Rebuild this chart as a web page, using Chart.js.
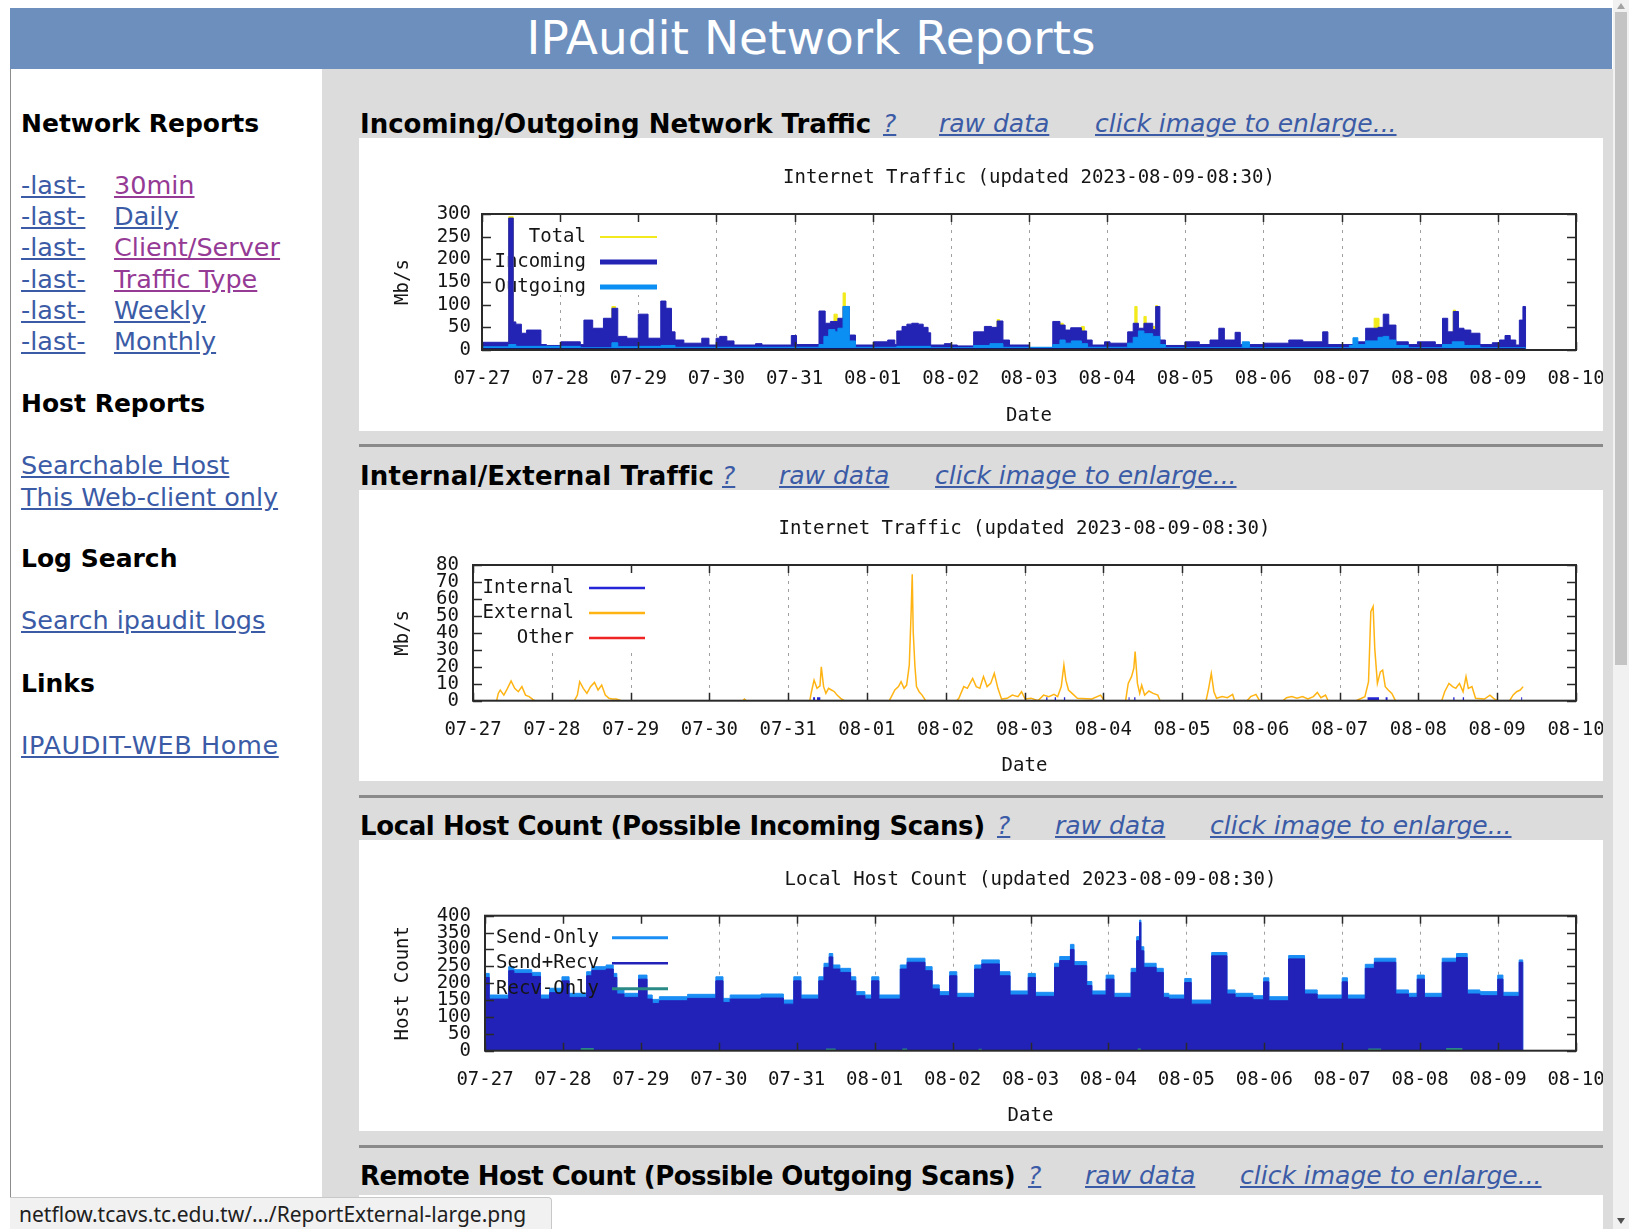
<!DOCTYPE html>
<html>
<head>
<meta charset="utf-8">
<title>IPAudit Network Reports</title>
<script src="https://cdn.jsdelivr.net/npm/chart.js@4.4.0/dist/chart.umd.min.js"></script>
<style>
html, body { margin: 0; padding: 0; width: 1629px; height: 1229px; overflow: hidden; background: #fff; font-family: "DejaVu Sans", Verdana, sans-serif; }
#header { position: absolute; left: 10px; top: 8px; width: 1602px; height: 61px; background: #6d8fbe; color: #fff; font-size: 47px; line-height: 60px; text-align: center; }
#side { position: absolute; left: 10px; top: 69px; width: 311px; height: 1160px; border-left: 1px solid #8c8c8c; background: #fff; }
#main { position: absolute; left: 322px; top: 69px; width: 1291px; height: 1160px; background: #dcdcdc; }
.t { position: absolute; white-space: nowrap; font-size: 25.5px; line-height: 31px; }
.h { font-weight: bold; color: #000; font-size: 25px; }
a { color: #3b5ba6; text-decoration: underline; }
a.v { color: #953a95; }
.sec { position: absolute; white-space: nowrap; font-size: 25px; line-height: 32px; }
.sec.b { font-weight: bold; font-size: 26px; color: #000; }
.sec a { font-style: italic; }
.box { position: absolute; left: 359px; width: 1244px; background: #fff; overflow: hidden; }
.box canvas { position: absolute; left: 0; top: 0; }
.sep { position: absolute; left: 359px; width: 1244px; height: 3px; background: #8a8a8a; }
#status { position: absolute; left: 10px; top: 1197px; width: 532px; height: 32px; padding-left: 9px; background: #f1f1f1; border-top: 1px solid #c8c8c8; border-right: 1px solid #c8c8c8; border-top-right-radius: 4px; font-family: "Noto Sans", sans-serif; font-size: 21px; line-height: 32px; color: #202020; white-space: nowrap; }
#scroll { position: absolute; left: 1613px; top: 0; width: 16px; height: 1229px; background: #f1f1f1; }
#thumb { position: absolute; left: 2px; top: 12px; width: 12px; height: 653px; background: #c4c4c4; }
.arr { position: absolute; left: 4px; width: 0; height: 0; border-left: 4px solid transparent; border-right: 4px solid transparent; }
</style>
</head>
<body>
<div id="header">IPAudit Network Reports</div>
<div id="side"></div>
<div id="main"></div>

<div class="t h" style="left:21px;top:108px">Network Reports</div>
<div class="t" style="left:21px;top:170px"><a href="#">-last-</a></div>
<div class="t" style="left:114px;top:170px"><a class="v" href="#">30min</a></div>
<div class="t" style="left:21px;top:201px"><a href="#">-last-</a></div>
<div class="t" style="left:114px;top:201px"><a href="#">Daily</a></div>
<div class="t" style="left:21px;top:232px"><a href="#">-last-</a></div>
<div class="t" style="left:114px;top:232px"><a class="v" href="#">Client/Server</a></div>
<div class="t" style="left:21px;top:264px"><a href="#">-last-</a></div>
<div class="t" style="left:114px;top:264px"><a class="v" href="#">Traffic Type</a></div>
<div class="t" style="left:21px;top:295px"><a href="#">-last-</a></div>
<div class="t" style="left:114px;top:295px"><a href="#">Weekly</a></div>
<div class="t" style="left:21px;top:326px"><a href="#">-last-</a></div>
<div class="t" style="left:114px;top:326px"><a href="#">Monthly</a></div>
<div class="t h" style="left:21px;top:388px">Host Reports</div>
<div class="t" style="left:21px;top:450px"><a href="#">Searchable Host</a></div>
<div class="t" style="left:21px;top:482px"><a href="#">This Web-client only</a></div>
<div class="t h" style="left:21px;top:543px">Log Search</div>
<div class="t" style="left:21px;top:605px"><a href="#">Search ipaudit logs</a></div>
<div class="t h" style="left:21px;top:668px">Links</div>
<div class="t" style="left:21px;top:730px"><a href="#" style="letter-spacing:0.6px">IPAUDIT-WEB Home</a></div>

<div class="sec b" style="left:360px;top:108px">Incoming/Outgoing Network Traffic</div>
<div class="sec" style="left:883px;top:108px"><a href="#">?</a></div>
<div class="sec" style="left:939px;top:108px"><a href="#">raw data</a></div>
<div class="sec" style="left:1095px;top:108px"><a href="#">click image to enlarge...</a></div>
<div class="box" style="top:138px;height:293px"><canvas id="c1" width="1264" height="293"></canvas></div>
<div class="sep" style="top:444px"></div>

<div class="sec b" style="left:360px;top:460px;letter-spacing:0.2px">Internal/External Traffic</div>
<div class="sec" style="left:722px;top:460px"><a href="#">?</a></div>
<div class="sec" style="left:779px;top:460px"><a href="#">raw data</a></div>
<div class="sec" style="left:935px;top:460px"><a href="#">click image to enlarge...</a></div>
<div class="box" style="top:490px;height:291px"><canvas id="c2" width="1264" height="291"></canvas></div>
<div class="sep" style="top:795px"></div>

<div class="sec b" style="left:360px;top:810px;letter-spacing:-0.4px">Local Host Count (Possible Incoming Scans)</div>
<div class="sec" style="left:997px;top:810px"><a href="#">?</a></div>
<div class="sec" style="left:1055px;top:810px"><a href="#">raw data</a></div>
<div class="sec" style="left:1210px;top:810px"><a href="#">click image to enlarge...</a></div>
<div class="box" style="top:840px;height:291px"><canvas id="c3" width="1264" height="291"></canvas></div>
<div class="sep" style="top:1145px"></div>

<div class="sec b" style="left:360px;top:1160px;letter-spacing:-0.55px">Remote Host Count (Possible Outgoing Scans)</div>
<div class="sec" style="left:1028px;top:1160px"><a href="#">?</a></div>
<div class="sec" style="left:1085px;top:1160px"><a href="#">raw data</a></div>
<div class="sec" style="left:1240px;top:1160px"><a href="#">click image to enlarge...</a></div>
<div class="box" style="top:1195px;height:40px"></div>

<div id="status">netflow.tcavs.tc.edu.tw/.../ReportExternal-large.png</div>
<div id="scroll">
  <div class="arr" style="top:3px;border-bottom:6px solid #a3a3a3"></div>
  <div id="thumb"></div>
  <div class="arr" style="top:1218px;border-top:6px solid #505050"></div>
</div>

<script>
// day labels, one per 24 h (x axis is hours since 07-27 00:00)
const xLabels = ['07-27', '07-28', '07-29', '07-30', '07-31', '08-01', '08-02', '08-03', '08-04', '08-05', '08-06', '08-07', '08-08', '08-09', '08-10'];

// Incoming/Outgoing Network Traffic, Mb/s, [hour, value] (value holds until next hour)
const totalMbps = [[0,0],[8.2,294],[9.6,0],[39.9,96],[41,0],[108.1,79],[109.1,0],[110.9,126],[111.6,0],[158.2,67],[159,0],[177.5,59],[178.5,0],[184.1,52],[185,0],[200.5,96],[201.2,0],[203.3,74],[204,0],[206,52],[206.9,98],[207.5,0],[274,70],[275.5,0],[298.3,88],[299,0],[320.5,0]];
const incomingMbps = [[0,17],[8.2,291],[9.6,62],[10.4,57],[12.1,37],[13.7,44],[18.1,12],[19.8,10],[24.2,18],[30.2,12],[31.3,66],[34,48],[37.3,70],[39.9,92],[41.7,30],[44.5,26],[48,79],[51,26],[54.9,108],[56.5,92],[58.2,40],[59.3,22],[62,15],[67.5,26],[69.7,11],[71.9,26],[73,30],[75.2,20],[77.4,11],[84,14],[86,11],[95,32],[96.6,12],[103.5,86],[105.4,59],[107,63],[109.3,70],[110.9,96],[112.8,33],[114.7,11],[120.2,18],[124.6,22],[126.8,12],[127.4,42],[129,52],[130.5,57],[132,59],[134,57],[135.5,50],[137,38],[137.8,11],[142,14],[144,11],[146,9],[151,40],[154.3,52],[156.5,50],[158.2,64],[160,22],[162,11],[168.1,5],[175.3,63],[177.5,55],[179.1,44],[180.8,49],[184.1,42],[185.7,22],[187.4,11],[191.2,18],[192.9,15],[198.3,40],[200,59],[201.6,48],[203.3,59],[206,45],[206.9,96],[208.2,22],[209.9,10],[215.9,18],[220.3,12],[223.6,22],[226.3,48],[228,22],[231.3,39],[232.9,12],[240.1,15],[247.8,22],[252.1,18],[258.2,40],[259.8,12],[268.6,18],[271.4,48],[275.2,50],[276.8,79],[278.5,55],[280.7,18],[284.5,12],[287.3,18],[292.8,12],[295,70],[296.6,40],[298.3,85],[299.9,48],[301.6,44],[303.7,37],[306.5,12],[310.3,16],[312.5,22],[314.2,32],[315.8,22],[317.5,11],[318.6,66],[319.7,96],[320.5,0]];
const outgoingMbps = [[0,7],[8.2,12],[10.4,8],[30.2,5],[39.9,16],[41.7,7],[48,8],[55,10],[59.3,6],[103.5,12],[105,30],[106.5,45],[108.4,40],[109.3,48],[110.9,96],[112.8,20],[114.7,6],[127.4,8],[137.8,5],[151,10],[156,14],[160,6],[175.3,12],[177.5,22],[179.1,15],[181,20],[184.1,14],[186,6],[198.3,15],[200,28],[201.6,42],[203.3,36],[206,30],[208.2,12],[209.9,5],[233.5,18],[235.7,5],[266.4,10],[267.5,27],[269,12],[271.4,20],[275.2,28],[276.8,30],[278.5,22],[280.7,10],[284.5,5],[295,12],[298,18],[301.6,10],[306.5,5],[320.5,0]];
const zeroLine = [[0,0],[320.5,0]];

// Internal/External Traffic, Mb/s
const internalMbps = [[103.6,1.2],[104.2,1.2],[104.3,null],[104.8,1.2],[105.8,1.2],[105.9,null],[174.6,1.2],[175,1.2],[175.1,null],[177.2,1.2],[177.6,1.2],[177.7,null],[180,1.2],[180.4,1.2],[180.5,null],[199.7,1.2],[200,1.2],[200.1,null],[201.4,1.2],[201.8,1.2],[201.9,null],[272.5,1.2],[276,1.2],[276.1,null],[278,1.2],[278.6,1.2],[278.7,null],[298.6,1.2],[299,1.2],[299.1,null],[301.5,1.2],[301.9,1.2],[302,null],[319.3,1.2],[319.6,1.2]];
const externalMbps = [[0,0],[7.2,0],[7.7,4.3],[8.3,6.3],[9.4,3.3],[10.5,7.3],[11.6,11.6],[12.7,7.3],[13.8,5.3],[14.9,8.3],[16,3.3],[17.1,2.4],[18.2,0.8],[18.8,0],[30.9,0],[31.8,3.3],[32.5,11.2],[33.6,7.3],[34.7,4.3],[35.8,8.3],[37,10.8],[38.1,6.3],[39.2,9.2],[40.3,3.3],[41.4,1.4],[42.5,1],[43.6,1],[45.2,0],[82.2,0],[82.7,1],[83.2,0],[102.6,0],[103.1,5.3],[103.9,12.1],[104.8,7.3],[105.7,8.8],[106.1,20],[106.8,8.3],[107.5,4.3],[108.3,7.3],[109.2,6.3],[110.1,5.3],[110.9,3.3],[112,1.4],[113.1,0],[126.8,0],[127.7,3.3],[128.5,6.3],[129.6,8.3],[130.4,11.2],[131.3,7.3],[132.1,9.2],[132.9,21],[133.5,54],[133.8,74.5],[134.1,40.7],[134.6,21],[135.1,8.3],[135.9,5.3],[136.8,3.3],[137.9,0],[147.3,0],[148,1.4],[149.5,8.3],[150.6,7.3],[152.2,13.1],[153.3,8.3],[154.4,7.3],[155.5,14.2],[156.6,8.3],[157.7,10.2],[158.8,16.1],[159.9,7.3],[161,1],[162.7,1.4],[164.3,3.3],[166,2.4],[167.1,5.3],[168.2,1],[170,1.5],[172.1,0],[173.8,3.3],[175.4,2.4],[177,3.7],[178.1,2.4],[179.2,8.3],[180,21],[180.6,12.1],[181.4,6.3],[182.5,4.3],[184.1,1.4],[188.5,1],[191.2,3.3],[192.3,0],[198.8,0],[199.6,10.2],[200.6,14.2],[201.3,19.1],[201.7,28.9],[202.4,10.2],[203.1,4.3],[203.7,9.2],[204.6,3.3],[205.9,5.7],[207.2,4.3],[208.6,3.3],[209.3,0],[223.3,0],[224.1,7.3],[224.9,16.1],[225.7,5.3],[226.5,1.4],[228.2,2.4],[229.8,1.8],[231.4,3.7],[232,0],[235.8,0],[236.9,2.4],[238.5,3.7],[239.6,0],[246.7,0],[247.8,1.8],[249.4,2.4],[251,1.4],[252.7,2.4],[254.3,1],[256,2.4],[257.2,4.9],[258.3,1.8],[259.7,3.3],[260.5,0],[269,0],[271.7,2.4],[272.8,11.2],[273.5,52.5],[274.2,55.5],[274.7,30.7],[275.5,10.2],[276.4,17],[277.1,18],[277.9,8.3],[278.8,6.3],[279.9,4.3],[281,0],[295.1,0],[296,5.3],[297.3,10.2],[298.4,8.3],[299.4,7.3],[300.5,10.2],[301.6,5.3],[302.5,14.2],[303.2,7.3],[304.3,8.3],[305.4,1.4],[308.1,1],[309.8,3.3],[310.9,1.4],[312,0],[315.8,0],[316.8,3.3],[317.9,5.3],[319,6.3],[319.9,8.3]];
const otherMbps = [];

// Local Host Count
const sendOnlyTop = [[0,229],[1.3,165],[7.3,249],[8.9,240],[14.4,232],[17.1,165],[19.9,185],[23.7,219],[25.9,170],[31.3,234],[32.9,249],[37.3,254],[39.5,229],[40.6,180],[42.8,170],[47.3,224],[49.9,165],[51.5,152],[53.7,160],[62.4,167],[71.1,219],[73.3,155],[75.5,165],[85,168],[91.9,150],[95.1,219],[97.3,165],[102.8,219],[104.4,259],[106,288],[107.1,254],[109.3,244],[112.6,219],[114.2,175],[117,165],[119.1,219],[121.3,165],[127.9,254],[130,274],[135.5,249],[137.7,195],[139.9,175],[143.1,234],[145.3,170],[150.8,254],[153,269],[158.4,234],[161.7,177],[167.3,229],[169.5,173],[175.4,259],[177,279],[180.3,315],[181.4,264],[185.3,205],[186.9,177],[191.3,224],[193.7,170],[199,244],[200.7,338],[201.6,387],[202,308],[202.9,259],[206.7,244],[208.9,170],[210.6,165],[215.5,214],[217.5,150],[223.8,291],[228.5,180],[231,170],[236.5,163],[239.8,216],[241.4,160],[247.5,282],[252.4,180],[256.3,165],[264,216],[265.6,165],[271.1,256],[273.9,274],[280.5,180],[284.4,170],[287.1,224],[289.3,170],[294.8,274],[299.2,288],[302.5,180],[306.4,175],[311.9,224],[313.5,173],[318.5,269],[319.6,0]];
const sendRecvTop = [[0,217],[1.3,153],[7.3,237],[8.9,229],[14.4,220],[17.1,153],[19.9,172],[23.7,207],[25.9,158],[31.3,222],[32.9,238],[37.3,242],[39.5,217],[40.6,168],[42.8,158],[47.3,212],[49.9,153],[51.5,140],[53.7,148],[62.4,155],[71.1,207],[73.3,143],[75.5,153],[85,156],[91.9,138],[95.1,207],[97.3,153],[102.8,207],[104.4,247],[106,278],[107.1,242],[109.3,232],[112.6,207],[114.2,163],[117,153],[119.1,207],[121.3,153],[127.9,242],[130,262],[135.5,237],[137.7,183],[139.9,163],[143.1,222],[145.3,158],[150.8,242],[153,257],[158.4,222],[161.7,165],[167.3,217],[169.5,161],[175.4,247],[177,267],[180.3,300],[181.4,252],[185.3,193],[186.9,165],[191.3,212],[193.7,158],[199,232],[200.7,326],[201.6,380],[202,296],[202.9,247],[206.7,232],[208.9,158],[210.6,153],[215.5,202],[217.5,138],[223.8,281],[228.5,168],[231,158],[236.5,151],[239.8,204],[241.4,148],[247.5,272],[252.4,168],[256.3,153],[264,204],[265.6,153],[271.1,244],[273.9,262],[280.5,168],[284.4,158],[287.1,212],[289.3,158],[294.8,262],[299.2,276],[302.5,168],[306.4,163],[311.9,212],[313.5,161],[318.5,262],[319.6,0]];
const recvOnly = [[29.5,4],[33.5,4],[33.6,null],[105,3],[108,3],[108.1,null],[128.5,3],[130,3],[130.1,null],[152,2],[153,2],[153.1,null],[201,3],[202,3],[202.1,null],[272,3],[276,3],[276.1,null],[296,4],[301,4]];

const mono = { family: '"DejaVu Sans Mono", monospace', size: 19, weight: 'normal' };
const monoCss = '19px "DejaVu Sans Mono", monospace';
const ink = '#151515';

function toXY(pairs) {
    return pairs.map(([x, y]) => ({ x, y }));
}

function drawKey(chart, o) {
    const { ctx, chartArea: a } = chart;
    ctx.font = monoCss;
    ctx.textAlign = 'right';
    ctx.textBaseline = 'middle';
    chart.data.datasets.filter(d => d.keyWidth).forEach((d, i) => {
        const yy = a.top + o.rowTop + i * o.rowGap;
        ctx.fillStyle = ink;
        ctx.fillText(d.label, a.left + o.textRight, yy);
        ctx.strokeStyle = d.borderColor;
        ctx.lineWidth = d.keyWidth;
        ctx.beginPath();
        ctx.moveTo(a.left + o.lineFrom, yy);
        ctx.lineTo(a.left + o.lineTo, yy);
        ctx.stroke();
    });
}

// gnuplot look: plot title over the plot, dashed day grid, opaque key, inward ticks on all four sides
const gnuplotLook = {
    id: 'gnuplotLook',
    beforeDatasetsDraw(chart, args, o) {
        const { ctx, chartArea: a, scales: { x } } = chart;
        ctx.save();
        ctx.strokeStyle = '#a0a0a0';
        ctx.lineWidth = 1;
        ctx.setLineDash([3, 5]);
        x.ticks.forEach(t => {
            if (t.value <= x.min || t.value >= x.max) return;
            const px = Math.round(x.getPixelForValue(t.value)) + 0.5;
            ctx.beginPath();
            ctx.moveTo(px, a.top);
            ctx.lineTo(px, a.bottom);
            ctx.stroke();
        });
        ctx.setLineDash([]);
        ctx.fillStyle = '#fff';
        ctx.fillRect(a.left + 1, a.top + 1, o.boxW, o.boxH);
        if (!o.keyOnTop) drawKey(chart, o);
        ctx.restore();
    },
    afterDatasetsDraw(chart, args, o) {
        const { ctx, chartArea: a, scales: { x, y } } = chart;
        ctx.save();
        if (o.keyOnTop) drawKey(chart, o);
        ctx.strokeStyle = '#2a2a2a';
        ctx.lineWidth = 1.5;
        ctx.beginPath();
        x.ticks.forEach(t => {
            const px = Math.round(x.getPixelForValue(t.value)) + 0.5;
            ctx.moveTo(px, a.top); ctx.lineTo(px, a.top + 8);
            ctx.moveTo(px, a.bottom); ctx.lineTo(px, a.bottom - 8);
        });
        y.ticks.forEach(t => {
            const py = Math.round(y.getPixelForValue(t.value)) + 0.5;
            ctx.moveTo(a.left, py); ctx.lineTo(a.left + 9, py);
            ctx.moveTo(a.right, py); ctx.lineTo(a.right - 9, py);
        });
        ctx.stroke();
        ctx.lineWidth = 2;
        ctx.strokeRect(a.left, a.top, a.right - a.left, a.bottom - a.top);
        ctx.font = monoCss;
        ctx.fillStyle = ink;
        ctx.textAlign = 'center';
        ctx.textBaseline = 'middle';
        ctx.fillText(o.title, (a.left + a.right) / 2, o.titleY);
        ctx.restore();
    }
};

function makeChart(id, c) {
    return new Chart(document.getElementById(id), {
        type: 'line',
        data: { datasets: c.datasets },
        options: {
            responsive: false,
            animation: false,
            events: [],
            layout: { padding: { left: 0, right: 47, top: c.plotTop, bottom: 0 } },
            elements: { point: { radius: 0 }, line: { tension: 0 } },
            plugins: {
                legend: { display: false },
                tooltip: { enabled: false },
                title: { display: false },
                gnuplotLook: c.key
            },
            scales: {
                x: {
                    type: 'linear', min: 0, max: 336,
                    grid: { display: false, drawTicks: false }, border: { display: false },
                    ticks: { stepSize: 24, autoSkip: false, maxRotation: 0, padding: 17.6, color: ink, font: mono,
                             callback: v => xLabels[Math.round(v / 24)] },
                    title: { display: true, text: 'Date', color: ink, font: mono, padding: { top: 0, bottom: 3.5 } },
                    afterFit: s => { s.height = c.xAxisH; }
                },
                y: {
                    min: 0, max: c.yMax,
                    grid: { display: false, drawTicks: false }, border: { display: false },
                    ticks: { stepSize: c.yStep, autoSkip: false, padding: c.yPad, color: ink, font: mono },
                    title: { display: true, text: c.yTitle, color: ink, font: mono, padding: { top: 32.6, bottom: 0 } },
                    afterFit: s => { s.width = c.yAxisW; }
                }
            }
        },
        plugins: [gnuplotLook]
    });
}

makeChart('c1', {
    plotTop: 76, xAxisH: 81, yAxisW: 123,
    yMax: 300, yStep: 50, yPad: 11, yTitle: 'Mb/s',
    key: { title: 'Internet Traffic (updated 2023-08-09-08:30)', titleY: 40,
           textRight: 104, lineFrom: 118, lineTo: 175, rowTop: 23, rowGap: 25, boxW: 180, boxH: 80 },
    datasets: [
        { label: 'Total', data: toXY(totalMbps), borderColor: '#f2ea1c', backgroundColor: '#f2ea1c', fill: 'origin', stepped: true, borderWidth: 1, order: 4, keyWidth: 2 },
        { label: 'Incoming', data: toXY(incomingMbps), borderColor: '#2323b4', backgroundColor: '#2323b4', fill: 'origin', stepped: true, borderWidth: 1, order: 3, keyWidth: 5 },
        { label: 'Outgoing', data: toXY(outgoingMbps), borderColor: '#0c8ff2', backgroundColor: '#0c8ff2', fill: 'origin', stepped: true, borderWidth: 1, order: 2, keyWidth: 5 },
        { label: 'zero', data: toXY(zeroLine), borderColor: '#17176a', borderWidth: 4, order: 1 }
    ]
});

makeChart('c2', {
    plotTop: 75, xAxisH: 80.3, yAxisW: 114,
    yMax: 80, yStep: 10, yPad: 14, yTitle: 'Mb/s',
    key: { title: 'Internet Traffic (updated 2023-08-09-08:30)', titleY: 39,
           textRight: 101, lineFrom: 116, lineTo: 172, rowTop: 23, rowGap: 25, boxW: 178, boxH: 82 },
    datasets: [
        { label: 'Internal', data: toXY(internalMbps), borderColor: '#2626d8', borderWidth: 3, order: 1, keyWidth: 2.5 },
        { label: 'External', data: toXY(externalMbps), borderColor: '#ffb414', borderWidth: 1.5, order: 2, keyWidth: 2.5 },
        { label: 'Other', data: toXY(otherMbps), borderColor: '#f02424', borderWidth: 1.5, order: 3, keyWidth: 2.5 }
    ]
});

makeChart('c3', {
    plotTop: 75.7, xAxisH: 80.3, yAxisW: 126,
    yMax: 400, yStep: 50, yPad: 14, yTitle: 'Host Count',
    key: { title: 'Local Host Count (updated 2023-08-09-08:30)', titleY: 40, keyOnTop: true,
           textRight: 114, lineFrom: 127, lineTo: 183, rowTop: 22, rowGap: 25.5, boxW: 188, boxH: 82 },
    datasets: [
        { label: 'Send-Only', data: toXY(sendOnlyTop), borderColor: '#1b8ef5', backgroundColor: '#1b8ef5', fill: 'origin', stepped: true, borderWidth: 1, order: 3, keyWidth: 3 },
        { label: 'Send+Recv', data: toXY(sendRecvTop), borderColor: '#2222b9', backgroundColor: '#2222b9', fill: 'origin', stepped: true, borderWidth: 1, order: 2, keyWidth: 2.5 },
        { label: 'Recv-Only', data: toXY(recvOnly), borderColor: '#2a8a86', borderWidth: 2.5, stepped: true, order: 1, keyWidth: 3 }
    ]
});
</script>
</body>
</html>
